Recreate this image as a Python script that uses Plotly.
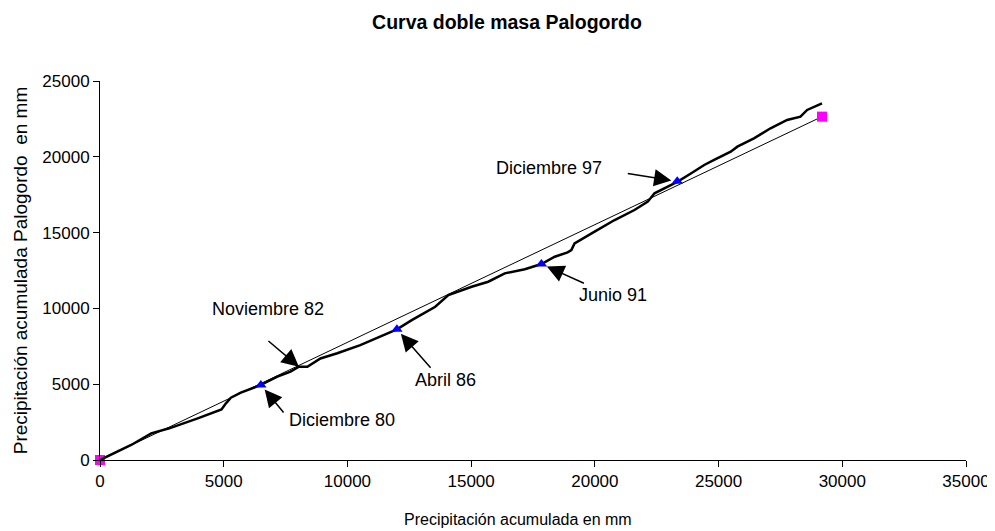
import plotly.graph_objects as go

# Double-mass curve (cumulative precipitation, mm)
curve_x = [0, 1260, 2070, 2800, 3950, 4550, 4910, 5090, 5290, 5690, 6500, 7170, 7700,
           8040, 8380, 8910, 9590, 10520, 11460, 12000, 12600, 13200, 13550, 14080, 15020,
           15690, 16360, 17170, 17840, 18380, 18900, 19050, 19180, 19990, 20800, 21600,
           22140, 22410, 23350, 23880, 24420, 24820, 25490, 25760, 26430, 27100, 27770,
           28310, 28580, 29180]
curve_y = [0, 990, 1760, 2090, 2750, 3120, 3340, 3740, 4110, 4440, 4950, 5500, 5830,
           6150, 6150, 6700, 7040, 7580, 8250, 8620, 9230, 9780, 10110, 10880, 11430,
           11760, 12310, 12580, 12930, 13410, 13700, 13850, 14290, 15060, 15830, 16490,
           17040, 17590, 18360, 18900, 19460, 19790, 20340, 20670, 21220, 21880, 22430,
           22650, 23090, 23530]

# Reference straight line (start and end points)
ref_x = [0, 29180]
ref_y = [0, 22650]

# Marked events
event_names = ["Diciembre 80", "Abril 86", "Junio 91", "Diciembre 97"]
event_x = [6500, 12000, 17840, 23330]
event_y = [4950, 8620, 12930, 18380]

# Label text positions (data units) and arrow tails (pixel offsets)
label_names = ["Noviembre 82", "Diciembre 80", "Abril 86", "Junio 91", "Diciembre 97"]
label_x = [6770, 9790, 13970, 20740, 18160]
label_y = [9960, 2640, 5280, 10880, 19260]
arrow_x = [8040, 6500, 12000, 17840, 23330]
arrow_y = [6150, 4950, 8620, 12930, 18380]
arrow_ax = [-32, 24, 35, 44, -51]
arrow_ay = [-27, 29, 40, 20, -8]
arrow_standoff = [0, 6, 6, 6, 6]

FONT = "Liberation Sans, Arial, sans-serif"

fig = go.Figure()
fig.add_trace(go.Scatter(x=ref_x, y=ref_y, mode="lines+markers",
                         line=dict(color="black", width=1),
                         marker=dict(symbol="square", size=10, color="#FF00FF"),
                         cliponaxis=False, showlegend=False, hoverinfo="skip"))
fig.add_trace(go.Scatter(x=curve_x, y=curve_y, mode="lines",
                         line=dict(color="black", width=2.5),
                         showlegend=False))
fig.add_trace(go.Scatter(x=event_x, y=event_y, mode="markers",
                         marker=dict(symbol="triangle-up", size=10, color="#0000FF"),
                         text=event_names, showlegend=False))

annotations = []
for name, lx, ly in zip(label_names, label_x, label_y):
    annotations.append(dict(x=lx, y=ly, xref="x", yref="y", text=name, showarrow=False,
                            font=dict(family=FONT, size=18, color="black")))
for xa, ya, ax, ay, so in zip(arrow_x, arrow_y, arrow_ax, arrow_ay, arrow_standoff):
    annotations.append(dict(x=xa, y=ya, xref="x", yref="y", text="", showarrow=True,
                            ax=ax, ay=ay, arrowhead=2, arrowsize=2.3, arrowwidth=1.5,
                            arrowcolor="black", standoff=so))
# x-axis title placed as a paper annotation
annotations.append(dict(x=0.483, y=-0.158, xref="paper", yref="paper",
                        text="Precipitación acumulada en mm", showarrow=False,
                        xanchor="center", yanchor="middle",
                        font=dict(family=FONT, size=16, color="black")))

fig.update_layout(
    width=995, height=531,
    margin=dict(l=89, r=37, t=73, b=79),
    paper_bgcolor="white", plot_bgcolor="white",
    font=dict(family=FONT, size=17, color="black"),
    title=dict(text="<b>Curva doble masa Palogordo</b>", x=0.5015, xref="container",
               xanchor="center", y=0.974, yanchor="middle", yref="container",
               font=dict(family=FONT, size=19.5, color="black")),
    annotations=annotations,
    xaxis=dict(range=[0, 35000], dtick=5000, tickformat="d", showgrid=False, zeroline=False,
               showline=True, linecolor="black", linewidth=1,
               ticks="outside", ticklen=6, tickcolor="black",
               tickfont=dict(family=FONT, size=17)),
    yaxis=dict(range=[0, 25000], dtick=5000, tickformat="d", showgrid=False, zeroline=False,
               showline=True, linecolor="black", linewidth=1,
               ticks="outside", ticklen=6, tickcolor="black",
               tickfont=dict(family=FONT, size=17),
               title=dict(text="Precipitación acumulada Palogordo  en mm", standoff=9,
                          font=dict(family=FONT, size=19))),
)

fig.write_html("out.html")
